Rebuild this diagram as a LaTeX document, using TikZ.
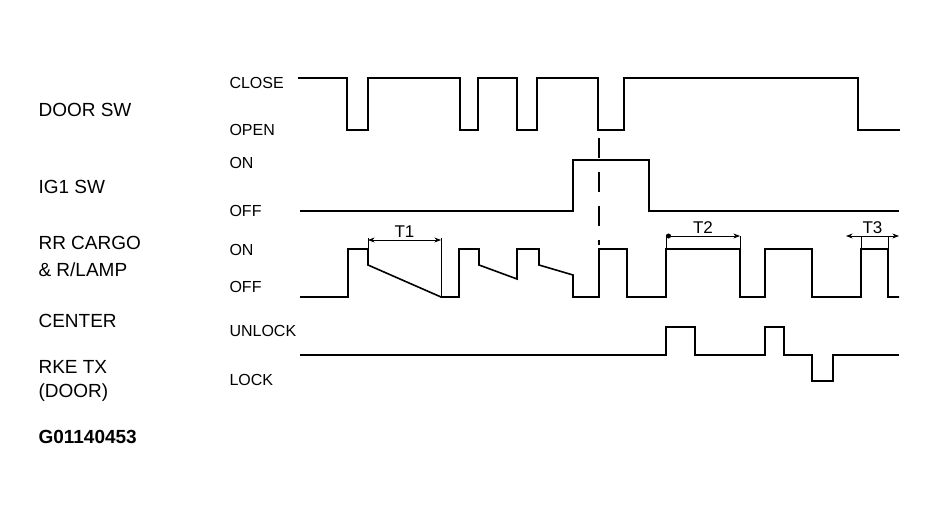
\documentclass[tikz,border=0pt]{standalone}
\usepackage{fontspec}
\setmainfont{Liberation Sans}
\usetikzlibrary{arrows.meta}
\begin{document}
\begin{tikzpicture}[x=1pt,y=-1pt,
    sig/.style={line width=1.6pt, line join=miter},
    dim/.style={line width=0.8pt},
    sname/.style={anchor=west, font=\fontsize{19}{19}\selectfont},
    lvl/.style={anchor=west, font=\fontsize{16}{16}\selectfont},
    tlab/.style={above=-1pt, font=\fontsize{17}{17}\selectfont}]
  \useasboundingbox (0,0) rectangle (937,521);
  % signal names
  \node[sname] (door) at (35,110) {DOOR SW};
  \node[sname] (ig) at (35,187) {IG1 SW};
  \node[sname] (rr1) at (35,243) {RR CARGO};
  \node[sname] (rr2) at (35,270) {\& R/LAMP};
  \node[sname] (ctr) at (35,321) {CENTER};
  \node[sname] (rke1) at (35,367) {RKE TX};
  \node[sname] (rke2) at (35,393) {(DOOR)};
  \node[sname, font=\bfseries\fontsize{19}{19}\selectfont] (fig) at (35,437) {G01140453};
  % levels
  \node[lvl] (close) at (226,83) {CLOSE};
  \node[lvl] (open) at (226,130) {OPEN};
  \node[lvl] (igon) at (226,163) {ON};
  \node[lvl] (igoff) at (226,211) {OFF};
  \node[lvl] (rron) at (226,250) {ON};
  \node[lvl] (rroff) at (226,287) {OFF};
  \node[lvl] (unl) at (226,331) {UNLOCK};
  \node[lvl] (lck) at (226,380) {LOCK};
  % door sw
  \draw[sig] (298,78) -| (347,130) -| (368,78) -| (460,130) -| (478,78)
    -| (517,130) -| (537,78) -| (598,130) -| (624,78) -| (858,130) -- (900,130);
  % ig1 sw
  \draw[sig] (300,211) -| (573,160) -| (649,211) -- (899,211);
  \draw[line width=2.6pt] (573,160) -- (649,160);
  \draw[line width=1.4pt, dash pattern=on 20pt off 14pt] (599,138) -- (599,245);
  % rr cargo & r/lamp
  \draw[sig] (300,297) -| (348,249) -| (368,265) -- (441,297) -| (459,249)
    -| (479,265) -- (517,279) |- (539,249) |- (539,265) -- (573,275) |- (599,297)
    |- (627,249) |- (666,297) |- (740,249) |- (765,297) |- (812,249) |- (861,297)
    |- (888,249) |- (899,297);
  \draw[dim] (368,249) -- (368,238);
  \draw[dim] (441,297) -- (441,238);
  \draw[dim] (666,249) -- (666,236);
  \draw[dim] (740,249) -- (740,236);
  \draw[dim] (861,249) -- (861,236);
  \draw[dim] (888,249) -- (888,236);
  \draw[dim, Stealth-Stealth] (368,240) -- node[tlab] {T1} (441,240);
  \draw[dim, Circle-Stealth] (666,236) -- node[tlab] {T2} (740,236);
  \draw[dim, Stealth-Stealth] (846,236) -- node[tlab] {T3} (899,236);
  % center rke tx
  \draw[sig] (300,355) -| (666,327) -| (695,355) -| (765,327) -| (784,355)
    -| (812,381) -| (833,355) -- (899,355);
\end{tikzpicture}
\end{document}
